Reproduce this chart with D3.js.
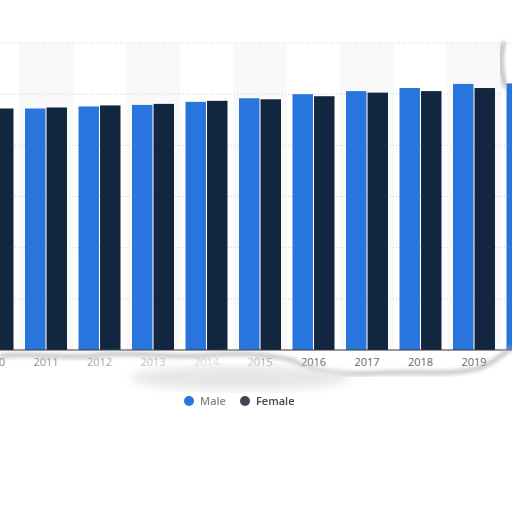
<!DOCTYPE html>
<html>
<head>
<meta charset="utf-8">
<script src="https://cdn.jsdelivr.net/npm/d3@7"></script>
<style>
  html, body { margin: 0; padding: 0; background: #fff; }
  svg { display: block; font-family: "Open Sans", "DejaVu Sans", sans-serif; }
</style>
</head>
<body>
<svg id="chart" width="512" height="512"></svg>
<script>
// values (2010 male and 2020 female are cut off, estimated)
const years = ['2010', '2011', '2012', '2013', '2014', '2015', '2016', '2017', '2018', '2019', '2020']
const male = [4.70, 4.72, 4.76, 4.79, 4.85, 4.92, 5.00, 5.06, 5.12, 5.20, 5.21]
const female = [4.72, 4.74, 4.78, 4.81, 4.87, 4.90, 4.96, 5.03, 5.06, 5.12, 5.14]
const yTicks = [0, 1, 2, 3, 4, 5, 6]
const seriesNames = ['Male', 'Female']
const colours = ['#2876dd', '#12263f']

let data = years.map((y, i) => ({ year: y, values: [male[i], female[i]] }))

let svg = d3.select('#chart')

let defs = svg.append('defs')
defs.append('filter').attr('id', 'blur2')
    .append('feGaussianBlur').attr('stdDeviation', 2)
defs.append('filter').attr('id', 'blur4')
    .append('feGaussianBlur').attr('stdDeviation', 5)
defs.append('filter').attr('id', 'soft')
    .append('feGaussianBlur').attr('stdDeviation', 0.6)

let fade = defs.append('linearGradient').attr('id', 'fade')
fade.append('stop').attr('offset', '0%').attr('stop-color', '#fff').attr('stop-opacity', 0.15)
fade.append('stop').attr('offset', '55%').attr('stop-color', '#fff').attr('stop-opacity', 0.6)
fade.append('stop').attr('offset', '75%').attr('stop-color', '#fff').attr('stop-opacity', 0.8)
fade.append('stop').attr('offset', '100%').attr('stop-color', '#fff').attr('stop-opacity', 0.1)

let x = d3.scaleBand()
    .domain(years)
    .range([-34.25, 554.25])
    .padding(0)

let x1 = d3.scaleBand()
    .domain(seriesNames)
    .range([x.bandwidth() / 2 - 21, x.bandwidth() / 2 + 21])
    .paddingInner(0.05)

let y = d3.scaleLinear()
    .domain([0, 6])
    .range([350, 43])

// alternating column shading
svg.append('g').selectAll('rect')
    .data(years.filter((d, i) => i % 2 === 1))
  .enter().append('rect')
    .attr('x', d => x(d))
    .attr('y', y(6))
    .attr('width', x.bandwidth())
    .attr('height', y(0) - y(6))
    .attr('fill', '#f9f9f9')

// gridlines
svg.append('g').selectAll('line')
    .data(yTicks.slice(1))
  .enter().append('line')
    .attr('x1', 0).attr('x2', 512)
    .attr('y1', d => y(d)).attr('y2', d => y(d))
    .attr('stroke', '#cfcfcf')
    .attr('stroke-dasharray', '1,2')

// bars
let groups = svg.append('g').selectAll('g')
    .data(data)
  .enter().append('g')
    .attr('transform', d => 'translate(' + x(d.year) + ',0)')

groups.selectAll('rect')
    .data(d => d.values.map((v, i) => ({ key: seriesNames[i], value: v, i: i })))
  .enter().append('rect')
    .attr('x', d => x1(d.key))
    .attr('y', d => y(d.value))
    .attr('width', x1.bandwidth())
    .attr('height', d => y(0) - y(d.value))
    .attr('fill', d => colours[d.i])

// baseline
svg.append('line')
    .attr('x1', 0).attr('x2', 512)
    .attr('y1', y(0)).attr('y2', y(0))
    .attr('stroke', '#333').attr('stroke-width', 1)

// x axis labels (the 2020 label is lost in the torn edge)
let xAxis = svg.append('g')
    .attr('transform', 'translate(0,' + (y(0) + 4) + ')')
    .call(d3.axisBottom(x).tickSize(0).tickPadding(4)
      .tickValues(years.slice(0, -1)))

xAxis.select('.domain').remove()
xAxis.selectAll('text')
    .attr('fill', '#666')
    .style('font-size', '11px')
    .style('font-family', '"Open Sans", sans-serif')

// torn paper: faded strip under the left labels
svg.append('rect')
    .attr('x', 0).attr('y', 354)
    .attr('width', 300).attr('height', 18)
    .attr('fill', 'url(#fade)')

// torn edge shadows
svg.append('path')
    .attr('d', 'M0,356 C40,352 60,360 100,355 C140,351 170,359 210,355 C250,352 275,356 292,360 C310,370 330,376 380,373 C420,371 450,376 480,368 C495,362 505,352 512,348')
    .attr('fill', 'none')
    .attr('stroke', '#aaa')
    .attr('stroke-width', 3)
    .attr('filter', 'url(#blur2)')

svg.append('ellipse')
    .attr('cx', 240).attr('cy', 378)
    .attr('rx', 110).attr('ry', 12)
    .attr('fill', '#e6e6e6')
    .attr('filter', 'url(#blur4)')

// top border and right tear
svg.append('line')
    .attr('x1', 0).attr('x2', 505)
    .attr('y1', 42).attr('y2', 42)
    .attr('stroke', '#bbb').attr('stroke-width', 2)
    .attr('filter', 'url(#soft)')

svg.append('path')
    .attr('d', 'M504,42 C500,55 500,70 506,88')
    .attr('fill', 'none')
    .attr('stroke', '#999')
    .attr('stroke-width', 3)
    .attr('filter', 'url(#blur2)')

// legend
let legend = svg.append('g')
    .attr('filter', 'url(#soft)')

let legendX = [189, 245]

legend.selectAll('circle')
    .data(seriesNames)
  .enter().append('circle')
    .attr('cx', (d, i) => legendX[i])
    .attr('cy', 401)
    .attr('r', 5)
    .attr('fill', (d, i) => i === 0 ? colours[0] : '#3c4754')

legend.selectAll('text')
    .data(seriesNames)
  .enter().append('text')
    .attr('x', (d, i) => legendX[i] + 11)
    .attr('y', 405)
    .attr('fill', (d, i) => i === 0 ? '#888' : '#444')
    .style('font-size', '11px')
    .style('font-weight', '600')
    .text(d => d)
</script>
</body>
</html>
